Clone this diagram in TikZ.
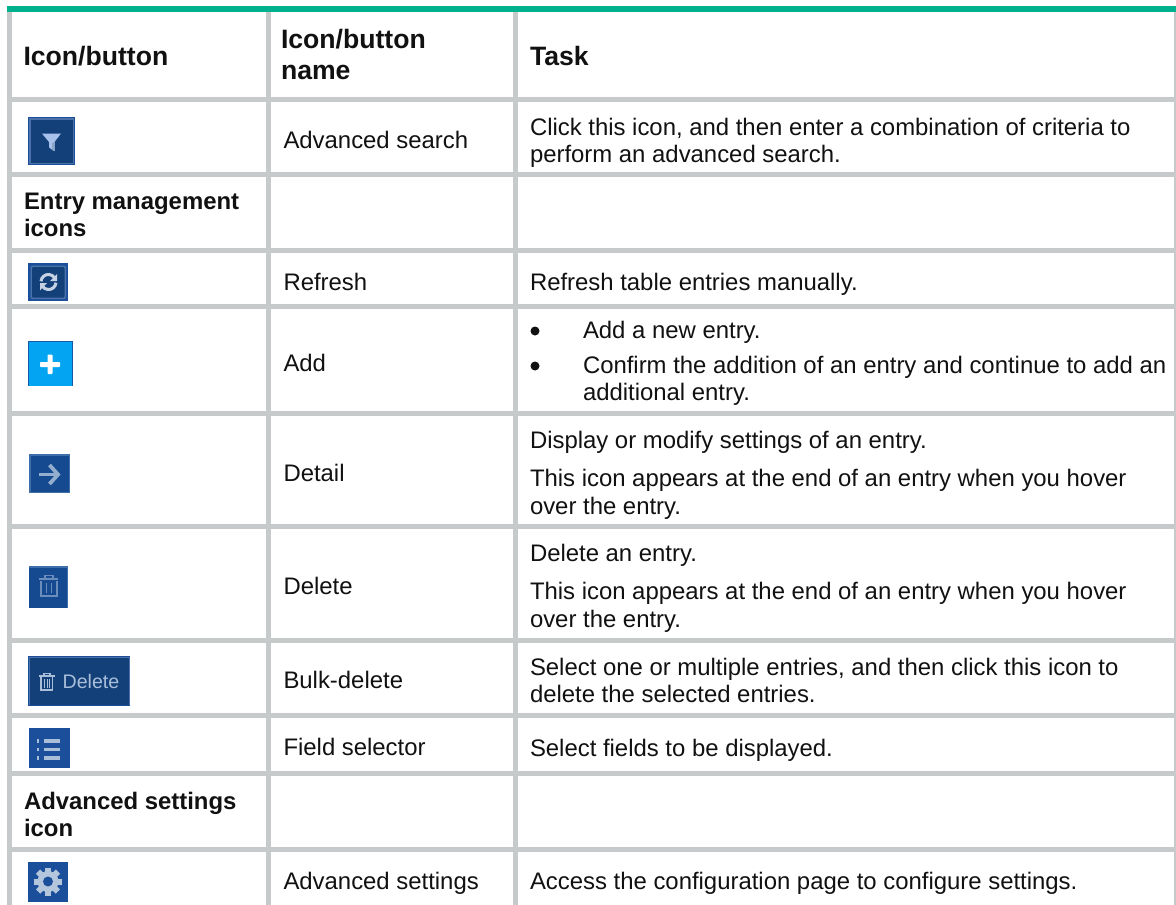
\documentclass[tikz,border=0pt]{standalone}
\usepackage{fontspec}
\setmainfont{Liberation Sans}
\definecolor{gridc}{HTML}{C6CACA}
\definecolor{greenbar}{HTML}{01B08C}
\definecolor{txt}{HTML}{111111}
\definecolor{navy}{HTML}{14407A}
\definecolor{navyb}{HTML}{1B4F9C}
\definecolor{navyi}{HTML}{4A72A8}
\definecolor{mid}{HTML}{154A90}
\definecolor{midb}{HTML}{3E6FA9}
\definecolor{sky}{HTML}{03A5F2}
\definecolor{pale}{HTML}{A9BFD9}
\definecolor{fadeb}{HTML}{6A8DBB}
\definecolor{funnel}{HTML}{A6C2EC}
\definecolor{gearc}{HTML}{B3C6DC}
\definecolor{refc}{HTML}{C4D2E4}
\tikzset{
  x=1pt,y=-1pt,
  gridfill/.style={fill=gridc,draw=none},
  body/.style={anchor=base west,inner sep=0pt,outer sep=0pt,text=txt,font=\fontsize{23.9}{27}\selectfont},
  bodybold/.style={body,font=\fontsize{23.9}{27}\selectfont\bfseries},
  head/.style={body,font=\fontsize{26.6}{31}\selectfont\bfseries},
  bullet/.style={circle,fill=txt,draw=none,minimum size=9pt,inner sep=0pt},
}
\begin{document}
\begin{tikzpicture}
\useasboundingbox (0,0) rectangle (1176,905);
\fill[white] (0,0) rectangle (1176,905);
% vertical rules
\foreach \a/\b in {7/12,266/271,513/518,1174/1176}
  \fill[gridfill] (\a,12) rectangle (\b,905);
% horizontal rules
\foreach \a/\b in {97/102,172/177,248/253,304/309,411/416,524/529,638/643,713/718,771/776,847/852}
  \fill[gridfill] (7,\a) rectangle (1176,\b);
\fill[greenbar] (7,6) rectangle (1176,12);
% header
\node[head] (h1) at (23.5,65) {Icon/button};
\node[head] (h2a) at (281,48) {Icon/button};
\node[head] (h2b) at (281,79) {name};
\node[head] (h3) at (530,65) {Task};
% advanced search
\node[body] (n1) at (283.5,148) {Advanced search};
\node[body] (t1a) at (530,135) {Click this icon, and then enter a combination of criteria to};
\node[body] (t1b) at (530,162) {perform an advanced search.};
% section
\node[bodybold] (s1a) at (24,209) {Entry management};
\node[bodybold] (s1b) at (24,236) {icons};
% refresh
\node[body] (n2) at (283.5,290) {Refresh};
\node[body] (t2) at (530,290) {Refresh table entries manually.};
% add
\node[body] (n3) at (283.5,371) {Add};
\node[bullet] (b1) at (535,331) {};
\node[body] (t3a) at (583,338) {Add a new entry.};
\node[bullet] (b2) at (535,366) {};
\node[body] (t3b) at (583,373) {Confirm the addition of an entry and continue to add an};
\node[body] (t3c) at (583,400) {additional entry.};
% detail
\node[body] (n4) at (283.5,481) {Detail};
\node[body] (t4a) at (530,448) {Display or modify settings of an entry.};
\node[body] (t4b) at (530,486) {This icon appears at the end of an entry when you hover};
\node[body] (t4c) at (530,514) {over the entry.};
% delete
\node[body] (n5) at (283.5,594) {Delete};
\node[body] (t5a) at (530,561) {Delete an entry.};
\node[body] (t5b) at (530,599) {This icon appears at the end of an entry when you hover};
\node[body] (t5c) at (530,627) {over the entry.};
% bulk
\node[body] (n6) at (283.5,688) {Bulk-delete};
\node[body] (t6a) at (530,675) {Select one or multiple entries, and then click this icon to};
\node[body] (t6b) at (530,702) {delete the selected entries.};
% field selector
\node[body] (n7) at (283.5,755) {Field selector};
\node[body] (t7) at (530,756) {Select fields to be displayed.};
% section
\node[bodybold] (s2a) at (24,809) {Advanced settings};
\node[bodybold] (s2b) at (24,836) {icon};
% advanced settings
\node[body] (n8) at (283.5,889) {Advanced settings};
\node[body] (t8) at (530,889) {Access the configuration page to configure settings.};

% ---- icons ----
% filter
\fill[navyb] (28,117) rectangle (75,165);
\fill[navyi] (29,118) rectangle (74,164);
\fill[navy] (30.5,119.5) rectangle (72.5,162.5);
\fill[funnel] (42,133.5) -- (61,133.5) -- (54.5,142) -- (54.5,151) -- (51,149) -- (49,147) -- (49,142) -- cycle;
\fill[pale!80!navy] (52,143) -- (54.5,142) -- (54.5,151) -- (52,150) -- cycle;
% refresh
\fill[navyb] (28,263) rectangle (68,301);
\fill[navyi,rounded corners=1.5pt] (30.5,265.5) rectangle (66,299);
\fill[navy,rounded corners=1pt] (32,267) rectangle (64.5,297.5);
\draw[refc,line width=3pt] (41,281.3) arc[start angle=-175,end angle=-30,radius=7.5];
\fill[refc] (57,274) -- (57,281) -- (50,281) -- cycle;
\draw[refc,line width=3pt] (56,282.7) arc[start angle=5,end angle=150,radius=7.5];
\fill[refc] (40,290.5) -- (40,283) -- (47,283) -- cycle;
% add
\fill[navyb!90!sky] (28,341) rectangle (73,386);
\fill[sky] (29,342) rectangle (72.2,385.5);
\fill[white,rounded corners=0.8pt] (47.5,354.5) rectangle (52.5,374);
\fill[white,rounded corners=0.8pt] (40,362) rectangle (60,367);
% detail
\fill[midb] (29,454) rectangle (70,493);
\fill[mid] (30.5,455.5) rectangle (68.5,491.5);
\draw[pale!85!mid,line width=3.8pt] (39,474.5) -- (57,474.5);
\draw[pale!85!mid,line width=3.8pt] (49.5,465) -- (58,474.5) -- (49.5,484);
% delete
\fill[midb] (29,566) rectangle (68,608);
\fill[mid] (29,567.5) rectangle (66.8,608);
\draw[fadeb,line width=1.8pt] (41,581) -- (41,596) -- (57,596) -- (57,581);
\draw[fadeb,line width=1.8pt] (39,579) -- (58,579);
\draw[fadeb,line width=1.6pt] (45,578) -- (45,575.5) -- (53,575.5) -- (53,578);
\draw[fadeb,line width=1.6pt] (46.5,583) -- (46.5,593) (51.5,583) -- (51.5,593);
% bulk delete
\fill[navyb] (28,656) rectangle (130,706);
\fill[navyi] (29,657) rectangle (129.5,705);
\fill[navy] (30,658) rectangle (129,704.5);
\draw[pale,line width=1.1pt] (41,677) -- (41,690) -- (52.5,690) -- (52.5,677);
\draw[pale,line width=1.2pt] (39,676) -- (54.5,676);
\draw[pale,line width=1.1pt] (44,675.5) -- (44,673.5) -- (50,673.5) -- (50,675.5);
\draw[pale,line width=1pt] (44.5,679) -- (44.5,688) (47,679) -- (47,688) (49.5,679) -- (49.5,688);
\node[anchor=base west,inner sep=0pt,text=pale,font=\fontsize{19.6}{22}\selectfont] (bd) at (62.5,688.5) {Delete};
% field selector
\fill[navyb] (29,728) rectangle (70,768);
\foreach \yy in {741,749.5,758}{
  \draw[pale,line width=3.2pt] (44,\yy) -- (60,\yy);
  \draw[pale,line width=3.2pt] (37,\yy) -- (39,\yy);
}
% gear
\fill[navyb] (28,862) rectangle (68,902);
\foreach \ang in {0,45,...,315}
  \fill[gearc,rotate around={\ang:(48,881.5)}] (45,867.5) rectangle (51,875);
\fill[gearc] (48,881.5) circle[radius=10.5];
\fill[navyb] (48,881.5) circle[radius=5];
\end{tikzpicture}
\end{document}
